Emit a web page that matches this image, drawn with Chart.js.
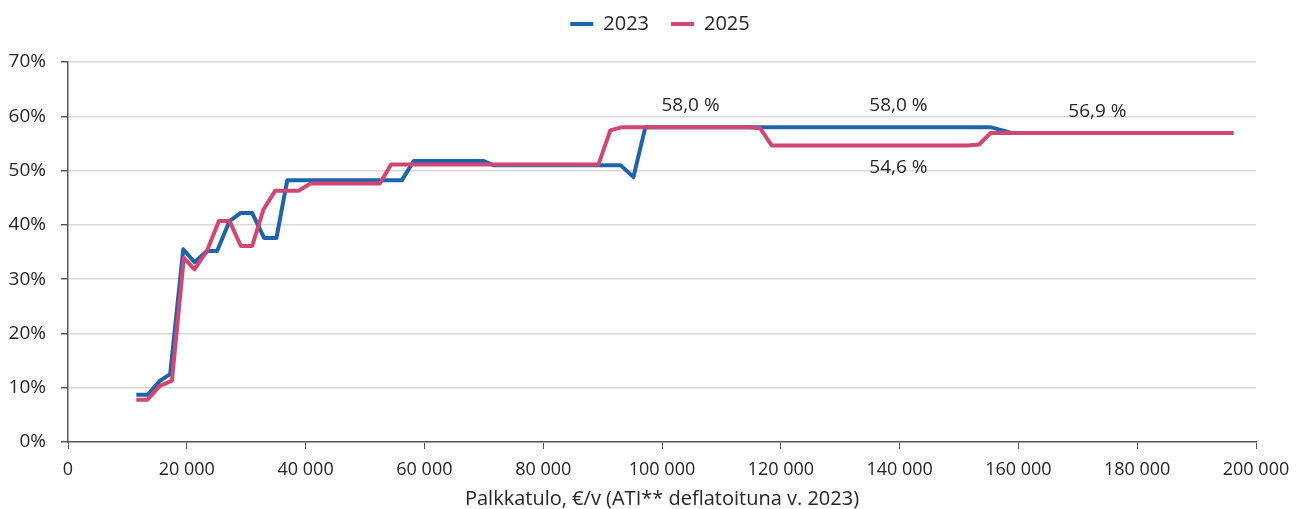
<!DOCTYPE html>
<html>
<head>
<meta charset="utf-8">
<script src="https://cdn.jsdelivr.net/npm/chart.js@4.4.1/dist/chart.umd.min.js"></script>
<style>
    html, body { margin: 0; padding: 0; background: #fff; }
    #wrap { position: relative; width: 1296px; height: 509px; }
</style>
</head>
<body>
<div id="wrap"><canvas id="chart"></canvas></div>
<script>
// Palkkatulo (€/v) and the rate (%)
const income2023 = [11500, 13400, 15400, 17200, 19400, 21300, 23400, 25100, 27200, 29100,
    31000, 33000, 35100, 36900, 56200, 58200, 70000, 71600, 93000, 95200, 97200, 155300,
    159000, 196200];
const rate2023 = [8.7, 8.7, 11.2, 12.5, 35.5, 33.1, 35.2, 35.2, 40.7, 42.2,
    42.2, 37.6, 37.6, 48.2, 48.2, 51.75, 51.75, 51.0, 51.0, 48.8, 58.0, 58.0,
    56.9, 56.9];

const income2025 = [11500, 13400, 15400, 17500, 19500, 21300, 23400, 25400, 27200, 29100,
    31000, 32900, 34900, 38800, 40800, 52500, 54400, 89300, 91300, 93300, 114600, 116500,
    118500, 151500, 153400, 155300, 196200];
const rate2025 = [7.8, 7.8, 10.3, 11.3, 33.9, 31.8, 35.2, 40.7, 40.7, 36.1,
    36.1, 42.8, 46.3, 46.3, 47.6, 47.6, 51.1, 51.1, 57.4, 58.0, 58.0, 57.8,
    54.6, 54.6, 54.8, 56.9, 56.9];

const seriesNames = ['2023', '2025'];

// value labels placed in the plot
const noteIncome = [104800, 139800, 139800, 173300];
const noteRate = [58.0, 58.0, 54.6, 56.9];
const noteText = ['58,0 %', '58,0 %', '54,6 %', '56,9 %'];
const noteBelow = [false, false, true, false];

const FONT = 'Open Sans';
const TEXT = '#262626';
const AXIS = '#595959';

function toPoints(xs, ys) {
    return xs.map((x, i) => ({ x, y: ys[i] }));
}

function thousands(v) {
    return String(v).replace(/\B(?=(\d{3})+(?!\d))/g, ' ');
}

const notesPlugin = {
    id: 'notes',
    afterInit(chart) {
        // leave more room between the legend and the plot
        const fit = chart.legend.fit.bind(chart.legend);
        chart.legend.fit = function () {
            fit();
            this.height += 18;
        };
    },
    afterLayout(chart) {
        // legend sits a bit right of the canvas centre
        chart.legend.left += 12;
        chart.legend.right += 12;
    },
    afterDatasetsDraw(chart) {
        const { ctx, scales } = chart;
        ctx.save();
        ctx.font = '19px "' + FONT + '"';
        ctx.fillStyle = TEXT;
        ctx.textAlign = 'center';
        ctx.textBaseline = 'middle';
        noteText.forEach((t, i) => {
            const x = scales.x.getPixelForValue(noteIncome[i]);
            const y = scales.y.getPixelForValue(noteRate[i]);
            ctx.fillText(t, x, noteBelow[i] ? y + 22 : y - 22);
        });
        ctx.restore();
    },
};

const line = (label, data, color, order) => ({
    label,
    data,
    order,
    borderColor: color,
    backgroundColor: color,
    borderWidth: 4,
    pointRadius: 0,
    pointHitRadius: 0,
    tension: 0,
    borderJoinStyle: 'round',
    fill: false,
});

new Chart(document.getElementById('chart'), {
    type: 'line',
    data: {
        datasets: [
            line(seriesNames[0], toPoints(income2023, rate2023), '#1f64a8', 1),
            line(seriesNames[1], toPoints(income2025, rate2025), '#d04775', 0),
        ],
    },
    plugins: [notesPlugin],
    options: {
        responsive: true,
        maintainAspectRatio: false,
        animation: false,
        layout: { padding: { top: -8, right: 0, left: 0, bottom: 0 } },
        plugins: {
            tooltip: { enabled: false },
            legend: {
                position: 'top',
                labels: {
                    usePointStyle: true,
                    pointStyle: 'line',
                    pointStyleWidth: 23,
                    padding: 22,
                    color: TEXT,
                    font: { family: FONT, size: 20 },
                    sort: (a, b) => a.datasetIndex - b.datasetIndex,
                },
            },
        },
        scales: {
            x: {
                type: 'linear',
                min: 0,
                max: 200000,
                afterFit: (s) => { s.height = 67; s.paddingRight = 40; },
                ticks: {
                    stepSize: 20000,
                    color: TEXT,
                    padding: 10,
                    font: { family: FONT, size: 18 },
                    callback: (v) => thousands(v),
                },
                grid: {
                    drawOnChartArea: false,
                    drawTicks: true,
                    tickLength: 7,
                    tickColor: AXIS,
                },
                border: { color: AXIS, width: 1.5 },
                title: {
                    display: true,
                    text: 'Palkkatulo, €/v (ATI** deflatoituna v. 2023)',
                    color: TEXT,
                    padding: { top: 0, bottom: -2 },
                    font: { family: FONT, size: 20 },
                },
            },
            y: {
                min: 0,
                max: 70,
                afterFit: (s) => { s.width = 68; },
                ticks: {
                    stepSize: 10,
                    color: TEXT,
                    padding: 15,
                    font: { family: FONT, size: 19 },
                    callback: (v) => v + '%',
                },
                grid: {
                    color: '#d9d9d9',
                    lineWidth: 1.5,
                    tickLength: 7,
                    tickColor: AXIS,
                },
                border: { color: AXIS, width: 1.5 },
            },
        },
    },
});
</script>
</body>
</html>
